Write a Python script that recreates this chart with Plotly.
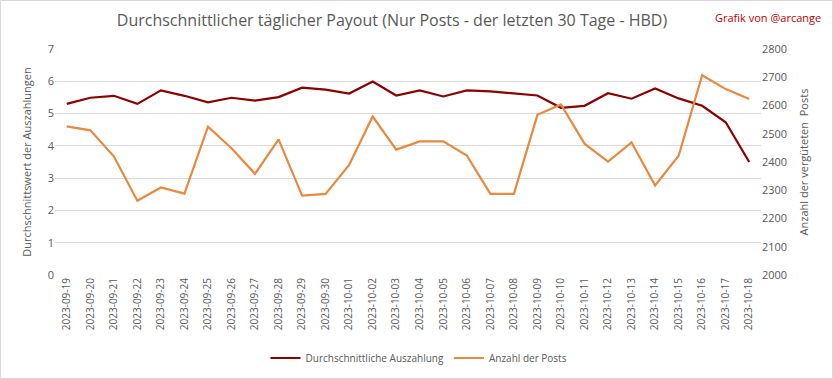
import plotly.graph_objects as go

dates = ["2023-09-19","2023-09-20","2023-09-21","2023-09-22","2023-09-23","2023-09-24","2023-09-25",
         "2023-09-26","2023-09-27","2023-09-28","2023-09-29","2023-09-30","2023-10-01","2023-10-02",
         "2023-10-03","2023-10-04","2023-10-05","2023-10-06","2023-10-07","2023-10-08","2023-10-09",
         "2023-10-10","2023-10-11","2023-10-12","2023-10-13","2023-10-14","2023-10-15","2023-10-16",
         "2023-10-17","2023-10-18"]

avg_payout = [5.30, 5.49, 5.55, 5.30, 5.72, 5.55, 5.35, 5.49, 5.40, 5.51, 5.80, 5.74, 5.62, 5.99,
              5.56, 5.72, 5.53, 5.72, 5.69, 5.63, 5.56, 5.18, 5.24, 5.63, 5.46, 5.78, 5.47, 5.24,
              4.73, 3.50]

post_count = [2526, 2512, 2420, 2263, 2310, 2288, 2525, 2449, 2358, 2480, 2281, 2287, 2390, 2561,
              2444, 2473, 2473, 2423, 2287, 2287, 2567, 2604, 2465, 2401, 2469, 2317, 2422, 2707,
              2658, 2623]

left_ticks = [0, 1, 2, 3, 4, 5, 6, 7]
right_ticks = [2000, 2100, 2200, 2300, 2400, 2500, 2600, 2700, 2800]

FONT = "Open Sans"
GRAY = "#595959"

fig = go.Figure()
fig.add_trace(go.Scatter(x=dates, y=avg_payout, mode="lines", name="Durchschnittliche Auszahlung",
                         line=dict(color="#8B0000", width=2.2), yaxis="y"))
fig.add_trace(go.Scatter(x=dates, y=post_count, mode="lines", name="Anzahl der Posts",
                         line=dict(color="#E8893F", width=2.2), yaxis="y2"))

W, H = 833, 379
ml, mr, mt, mb = 55, 72, 49, 104
pw, ph = W - ml - mr, H - mt - mb

fig.update_layout(
    width=W, height=H,
    margin=dict(l=ml, r=mr, t=mt, b=mb, autoexpand=False),
    paper_bgcolor="white", plot_bgcolor="white",
    font=dict(family=FONT, color=GRAY, size=11),
    title=dict(text="Durchschnittlicher täglicher Payout (Nur Posts - der letzten 30 Tage - HBD)",
               x=392 / W, xanchor="center", y=1 - 20 / H, yanchor="middle",
               font=dict(family=FONT, size=16, color=GRAY)),
    xaxis=dict(type="category", tickangle=-90, tickfont=dict(size=10, color=GRAY),
               showgrid=False, showline=False, ticks="", range=[-0.5, len(dates) - 0.5],
               automargin=False),
    yaxis=dict(range=[0, 7], tickvals=left_ticks, showgrid=True, gridcolor="#D9D9D9", gridwidth=1,
               zeroline=False, showline=False, ticks="", tickfont=dict(size=11, color=GRAY),
               automargin=False,
               title=dict(text="Durchschnittswert der Auszahlungen", font=dict(size=11, color=GRAY),
                          standoff=13)),
    yaxis2=dict(range=[2000, 2800], tickvals=right_ticks, overlaying="y", side="right",
                showgrid=False, zeroline=False, showline=False, ticks="", automargin=False,
                tickfont=dict(size=11, color=GRAY),
                title=dict(text="Anzahl der vergüteten  Posts", font=dict(size=11, color=GRAY),
                           standoff=14)),
    legend=dict(orientation="h", x=0.5 + 11 / pw, xanchor="center", y=-(358 - 275) / ph,
                yanchor="middle", font=dict(size=10, color=GRAY), itemwidth=30,
                traceorder="normal"),
    showlegend=True,
)

fig.add_annotation(text="Grafik von @arcange", xref="paper", yref="paper",
                   x=(W - 10 - ml) / pw, xanchor="right", y=1 + (mt - 18) / ph, yanchor="middle",
                   showarrow=False, font=dict(family=FONT, size=11, color="#C00000"))

fig.add_shape(type="rect", xref="paper", yref="paper",
              x0=(0.5 - ml) / pw, x1=(W - 0.5 - ml) / pw,
              y0=-(mb - 0.5) / ph, y1=1 + (mt - 0.5) / ph,
              line=dict(color="#D9D9D9", width=1), layer="below")

fig.write_html("out.html",
               config={"displayModeBar": False},
               post_script="document.body.style.margin='0';document.body.style.overflow='hidden';")
